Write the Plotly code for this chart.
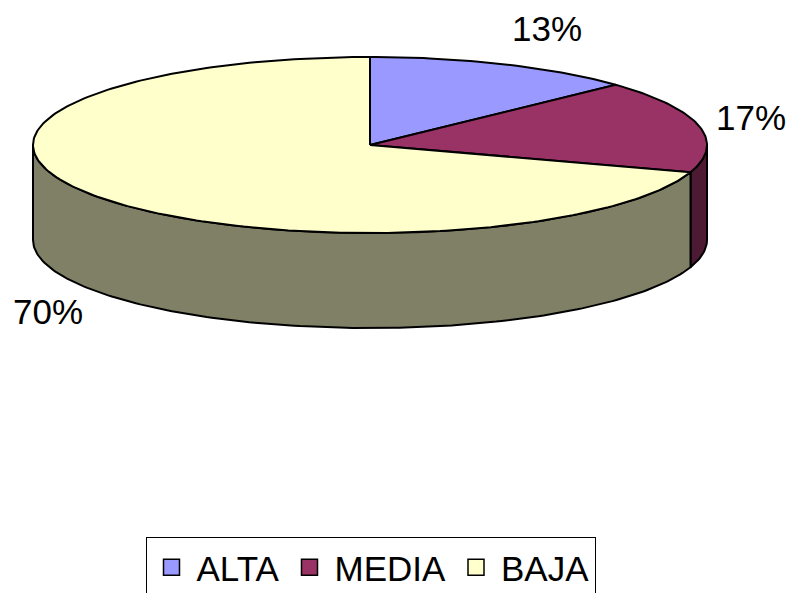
import math
import plotly.graph_objects as go

# ---- data ----
categories = ["ALTA", "MEDIA", "BAJA"]
values = [13, 17, 70]
top_colors = ["#9999FF", "#993366", "#FFFFCC"]
side_colors = ["#4D4D80", "#4D1A33", "#808066"]

# ---- geometry (layout constants, pixel space) ----
W, H = 791, 593
CX, CY = 370, 145
RX, RY = 337, 88
DEPTH = 95
LINE = dict(color="black", width=2)
FONT = "Liberation Sans, Arial, sans-serif"


def pt(t_deg, dy=0.0):
    t = math.radians(t_deg)
    return CX + RX * math.sin(t), CY - RY * math.cos(t) + dy


def arc(a0, a1, dy=0.0, n=None):
    if n is None:
        n = max(2, int(abs(a1 - a0) / 1.0) + 1)
    xs, ys = [], []
    for i in range(n):
        a = a0 + (a1 - a0) * i / (n - 1)
        x, y = pt(a, dy)
        xs.append(x)
        ys.append(y)
    return xs, ys


total = sum(values)
starts, ends = [], []
acc = 0.0
for v in values:
    starts.append(acc / total * 360.0)
    acc += v
    ends.append(acc / total * 360.0)

fig = go.Figure()

# side faces (visible front half: 90..270 deg)
for i, cat in enumerate(categories):
    a0 = max(starts[i], 90.0)
    a1 = min(ends[i], 270.0)
    if a1 <= a0:
        continue
    tx, ty = arc(a0, a1)
    bx, by = arc(a1, a0, dy=DEPTH)
    xs = tx + bx + [tx[0]]
    ys = ty + by + [ty[0]]
    fig.add_trace(go.Scatter(x=xs, y=ys, mode="lines", fill="toself",
                             fillcolor=side_colors[i], line=LINE,
                             hoverinfo="skip", showlegend=False))

# top faces
for i, cat in enumerate(categories):
    tx, ty = arc(starts[i], ends[i])
    xs = [CX] + tx + [CX]
    ys = [CY] + ty + [CY]
    fig.add_trace(go.Scatter(x=xs, y=ys, mode="lines", fill="toself",
                             fillcolor=top_colors[i], line=LINE,
                             name=cat, hoverinfo="name+text",
                             text=[f"{values[i]}%"] * len(xs),
                             showlegend=False))

# legend entries
for i, cat in enumerate(categories):
    fig.add_trace(go.Scatter(x=[None], y=[None], mode="markers", name=cat,
                             marker=dict(symbol="square", size=22,
                                         color=top_colors[i],
                                         line=dict(color="black", width=1.5))))

# percentage labels
PAD = 15
LABEL_DY = -5
for i, cat in enumerate(categories):
    m = (starts[i] + ends[i]) / 2.0
    s, c = math.sin(math.radians(m)), math.cos(math.radians(m))
    x = CX + (RX + PAD) * s
    y = CY - (RY + PAD) * c + (DEPTH - 6 if c < 0 else 0)
    xa = "left" if s >= 0 else "right"
    if c > 0.7:
        ya = "bottom"
    elif c >= 0:
        ya = "middle"
        y += LABEL_DY
    else:
        ya = "top"
        y += LABEL_DY
    pct = round(values[i] / total * 100)
    fig.add_annotation(x=x, y=y, xref="x", yref="y", text=f"{pct}%",
                       showarrow=False, xanchor=xa, yanchor=ya,
                       font=dict(family=FONT, size=35, color="black"))

fig.update_layout(
    width=W, height=H,
    margin=dict(l=0, r=0, t=0, b=0, autoexpand=False),
    paper_bgcolor="white", plot_bgcolor="white",
    xaxis=dict(range=[0, W], visible=False, fixedrange=True),
    yaxis=dict(range=[H, 0], visible=False, fixedrange=True),
    showlegend=True,
    legend=dict(orientation="h", x=370.5 / W, xanchor="center",
                y=(H - 537) / H, yanchor="top",
                bordercolor="black", borderwidth=1, bgcolor="white",
                itemwidth=40,
                font=dict(family=FONT, size=35, color="black"),
                itemclick=False, itemdoubleclick=False),
)

fig.write_html("out.html",
               config={"displayModeBar": False},
               post_script="document.body.style.margin='0';"
                           "document.body.style.overflow='hidden';")
